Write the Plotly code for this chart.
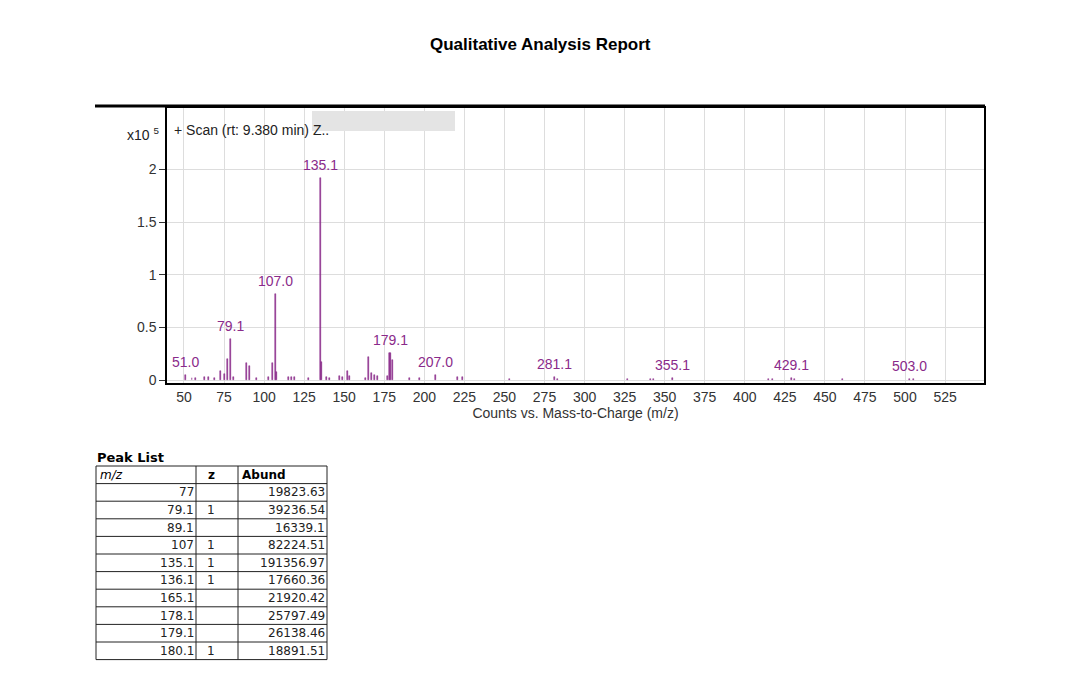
import plotly.graph_objects as go

W, H = 1080, 692
OX, OY = 8, 8  # page offset of the plot div


def px(x):
    return (x - OX) / W


def py(y):
    return 1 - (y - OY) / H


mz = [51.0, 55, 57, 63, 65, 69, 73, 75, 77, 79.1, 81, 89.1, 91, 95, 103, 105, 107.0, 108, 115, 117, 119, 128,
      135.1, 136.1, 139, 141, 147, 149, 152, 153, 163, 165.1, 167, 169, 171, 177, 178.1, 179.1, 180.1,
      191, 197, 207.0, 221, 224, 253, 281.1, 283, 327, 341, 343, 355.1, 415, 417, 429.1, 431, 461, 503.0, 505]
abund = [5000, 2500, 2500, 3500, 3000, 2500, 9000, 6000, 19824, 39237, 3000, 16339, 14000, 2500, 3000, 16000, 82225, 8000,
         3500, 3000, 3000, 2500, 191357, 17660, 3000, 2500, 4500, 3500, 9000, 4000, 2500, 21920, 7000, 5000, 4500,
         4000, 25797, 26138, 18892, 2000, 2000, 5000, 3000, 3500, 1500, 3500, 1500, 1500, 1500, 1500, 2500,
         1500, 1500, 2000, 1500, 1500, 1500, 1500]
labeled = [51.0, 79.1, 107.0, 135.1, 179.1, 207.0, 281.1, 355.1, 429.1, 503.0]
label_text = ["51.0", "79.1", "107.0", "135.1", "179.1", "207.0", "281.1", "355.1", "429.1", "503.0"]
label_y = [5000, 39237, 82225, 191357, 26138, 5000, 3500, 2500, 2000, 1500]
yticks = [0, 50000, 100000, 150000, 200000]
yticklabels = ["0", "0.5", "1", "1.5", "2"]
xticks = list(range(50, 526, 25))

tbl_header = ["<i>m/z</i>", "<b>z</b>", "<b>Abund</b>"]
tbl_mz = ["77", "79.1", "89.1", "107", "135.1", "136.1", "165.1", "178.1", "179.1", "180.1"]
tbl_z = ["", "1", "", "1", "1", "1", "", "", "", "1"]
tbl_ab = ["19823.63", "39236.54", "16339.1", "82224.51", "191356.97", "17660.36", "21920.42", "25797.49", "26138.46", "18891.51"]

purple = "#8a2a8a"
fig = go.Figure()
fig.add_trace(go.Bar(x=mz, y=abund, width=0.6, marker=dict(color=purple, line=dict(width=0.5, color=purple)),
                     showlegend=False))
for x, t, y in zip(labeled, label_text, label_y):
    fig.add_annotation(x=x, y=y, text=t, showarrow=False, yanchor="bottom", yshift=3,
                       font=dict(color=purple, size=14, family="Liberation Sans"))

# table drawn as grid
col_edges = [96, 196, 238, 327]
top, rh = 466, 17.6
nrows = len(tbl_mz) + 1
bottom = top + rh * nrows
for cx in col_edges:
    fig.add_shape(type="line", xref="paper", yref="paper", x0=px(cx), x1=px(cx), y0=py(top), y1=py(bottom),
                  line=dict(color="#222", width=1))
for i in range(nrows + 1):
    yy = top + rh * i
    fig.add_shape(type="line", xref="paper", yref="paper", x0=px(col_edges[0]), x1=px(col_edges[-1]),
                  y0=py(yy), y1=py(yy), line=dict(color="#222", width=1))
tf = dict(family="DejaVu Sans", size=12, color="black")
hy = py(top + rh / 2)
fig.add_annotation(xref="paper", yref="paper", x=px(98), y=hy, text=tbl_header[0], xanchor="left", yanchor="middle",
                   showarrow=False, font=tf)
fig.add_annotation(xref="paper", yref="paper", x=px(211), y=hy, text=tbl_header[1], xanchor="center", yanchor="middle",
                   showarrow=False, font=tf)
fig.add_annotation(xref="paper", yref="paper", x=px(240), y=hy, text=tbl_header[2], xanchor="left", yanchor="middle",
                   showarrow=False, font=tf)
cf = dict(family="DejaVu Sans", size=12, color="#222")
for i, (a, b, c) in enumerate(zip(tbl_mz, tbl_z, tbl_ab)):
    yc = py(top + rh * (i + 1.5))
    fig.add_annotation(xref="paper", yref="paper", x=px(196), y=yc, text=a, xanchor="right", yanchor="middle",
                       showarrow=False, font=cf)
    if b:
        fig.add_annotation(xref="paper", yref="paper", x=px(211), y=yc, text=b, xanchor="center", yanchor="middle",
                           showarrow=False, font=cf)
    fig.add_annotation(xref="paper", yref="paper", x=px(327), y=yc, text=c, xanchor="right", yanchor="middle",
                       showarrow=False, font=cf)

fig.update_layout(
    width=W, height=H, margin=dict(l=0, r=0, t=0, b=0), paper_bgcolor="white", plot_bgcolor="white",
    bargap=0, font=dict(family="Liberation Sans", size=14, color="#333"),
    xaxis=dict(domain=[px(167), px(984)], range=[39.4, 549.3], tickvals=xticks, showgrid=True, automargin=False,
               gridcolor="#dddddd", zeroline=False, showline=True, linecolor="black", linewidth=1.5, mirror=True,
               ticks="", title=dict(text="Counts vs. Mass-to-Charge (m/z)", standoff=2, font=dict(size=14))),
    yaxis=dict(domain=[py(383), py(108)], range=[-2500, 258000], tickvals=yticks, ticktext=yticklabels,
               showgrid=True, gridcolor="#dddddd", zeroline=False, showline=True, linecolor="black", linewidth=1.5,
               mirror=True, ticks="outside", ticklen=6, tickcolor="#333", automargin=False),
)
fig.add_shape(type="line", xref="paper", yref="paper", x0=px(95), x1=px(985), y0=py(106), y1=py(106),
              line=dict(color="black", width=3))
fig.add_shape(type="rect", xref="paper", yref="paper", x0=px(312), x1=px(455), y0=py(131), y1=py(111),
              fillcolor="#e4e4e4", line=dict(width=0), layer="above")
fig.add_annotation(xref="paper", yref="paper", x=px(540), y=py(45), yanchor="middle",
                   text="<b>Qualitative Analysis Report</b>", showarrow=False,
                   font=dict(family="Liberation Sans Narrow, Liberation Sans", size=17, color="black"))
fig.add_annotation(xref="paper", yref="paper", x=px(172), y=py(130), xanchor="left", yanchor="middle",
                   text="+ Scan (rt: 9.380 min) Z..", showarrow=False, font=dict(size=14, color="#222"))
fig.add_annotation(xref="paper", yref="paper", x=px(161), y=py(134), xanchor="right", yanchor="middle",
                   text="x10 <sup>5</sup>", showarrow=False, font=dict(size=14, color="#222"))
fig.add_annotation(xref="paper", yref="paper", x=px(95), y=py(457), xanchor="left", yanchor="middle",
                   text="<b>Peak List</b>", showarrow=False, font=dict(family="DejaVu Sans", size=13, color="black"))
fig.write_html("out.html")
